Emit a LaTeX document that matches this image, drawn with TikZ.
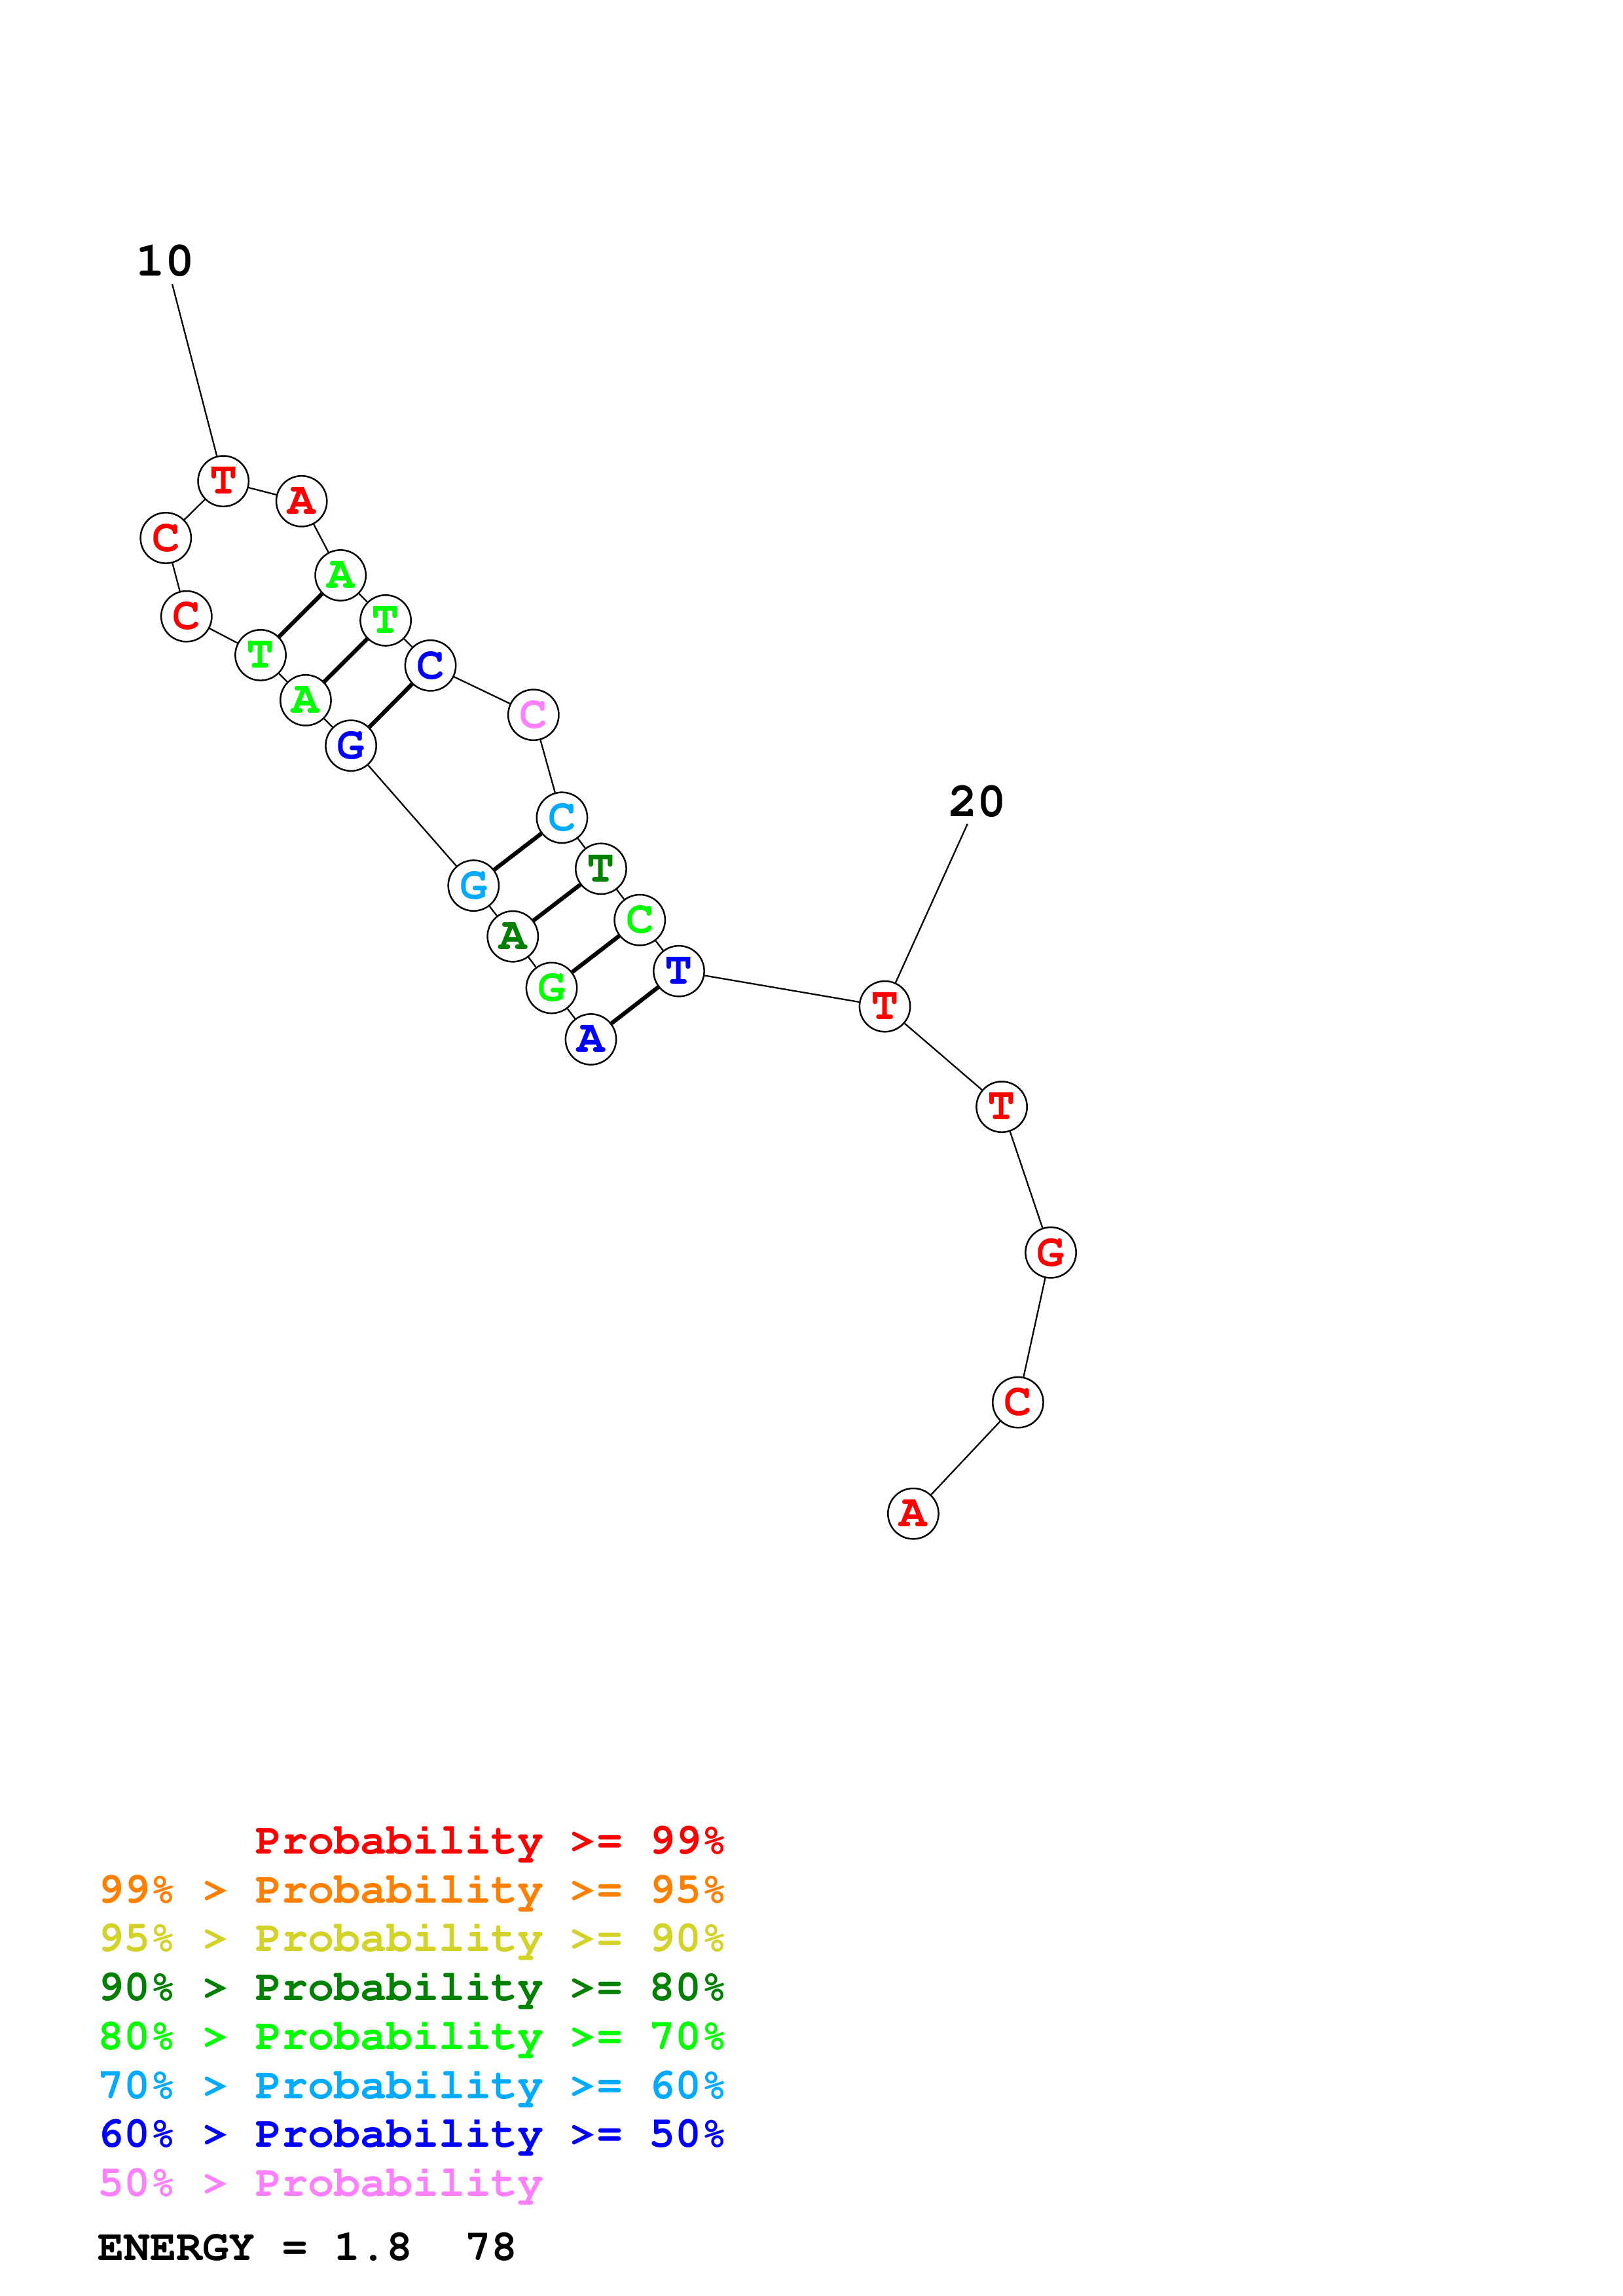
\documentclass[tikz,border=0pt]{standalone}
\usepackage[T1]{fontenc}
\definecolor{pred}{RGB}{255,0,0}
\definecolor{porange}{RGB}{255,128,0}
\definecolor{pyellow}{RGB}{210,210,40}
\definecolor{pdkgreen}{RGB}{0,128,0}
\definecolor{pgreen}{RGB}{0,255,0}
\definecolor{plblue}{RGB}{0,170,255}
\definecolor{pblue}{RGB}{0,0,255}
\definecolor{ppink}{RGB}{255,128,255}
\newcommand{\nucfont}{\fontfamily{pcr}\bfseries\fontsize{17}{17}\selectfont}
\newcommand{\legfont}{\fontfamily{pcr}\bfseries\fontsize{16.1}{16.1}\selectfont}
\tikzset{
  nuc/.style={circle, draw, line width=0.6pt, fill=white, inner sep=0pt, minimum size=6.55mm, font=\nucfont},
  backbone/.style={line width=0.55pt},
  pairline/.style={line width=1.5pt},
  numlabel/.style={inner sep=0pt, font=\fontfamily{pcr}\bfseries\fontsize{18}{18}\selectfont},
  legend/.style={anchor=base west, inner sep=0pt, font=\legfont}
}

\begin{document}
\begin{tikzpicture}[x=0.18953mm, y=-0.18953mm]
\useasboundingbox (0,0) rectangle (1108,1568);
\foreach \n/\x/\y/\b/\c in {1/403.4/709.8/A/pblue, 2/376.6/674.7/G/pgreen, 3/350.1/639.5/A/pdkgreen,
  4/323.3/604.8/G/plblue, 5/239.6/509.2/G/pblue, 6/208.7/478.2/A/pgreen, 7/177.9/447.4/T/pgreen,
  8/127.3/420.9/C/pred, 9/113.2/367.4/C/pred, 10/152.5/328.6/T/pred, 11/205.9/342.3/A/pred,
  12/232.5/392.9/A/pgreen, 13/263.3/423.7/T/pgreen, 14/293.9/454.5/C/pblue, 15/364.2/488.2/C/ppink,
  16/383.7/558.4/C/plblue, 17/410.3/593.3/T/pdkgreen, 18/436.8/628.3/C/pgreen, 19/463.5/663.2/T/pblue,
  20/604.1/687.3/T/pred, 21/683.9/755.9/T/pred, 22/717.4/855.4/G/pred, 23/695.0/957.7/C/pred,
  24/623.5/1033.7/A/pred}
\node[nuc, text=\c] (n\n) at (\x,\y) {\b};
\foreach \i [count=\j from 2] in {1,...,23}
\draw[backbone] (n\i) -- (n\j);
\foreach \a/\b in {1/19, 2/18, 3/17, 4/16, 5/14, 6/13, 7/12}
\draw[pairline] (n\a) -- (n\b);
\coordinate (t10) at (117.6,194.1);
\coordinate (t20) at (660.5,562.7);
\draw[backbone] (n10) -- (t10);
\draw[backbone] (n20) -- (t20);
\node[numlabel] (l10) at (112.7,178.1) {10};
\node[numlabel] (l20) at (667.3,547.3) {20};
\foreach \k/\c/\t in {0/pred/{\hphantom{99\% > }Probability >= 99\%},
  1/porange/{99\% > Probability >= 95\%}, 2/pyellow/{95\% > Probability >= 90\%},
  3/pdkgreen/{90\% > Probability >= 80\%}, 4/pgreen/{80\% > Probability >= 70\%},
  5/plblue/{70\% > Probability >= 60\%}, 6/pblue/{60\% > Probability >= 50\%},
  7/ppink/{50\% > Probability}}
\node[legend, text=\c] (leg\k) at (66.5,1266+33.4*\k) {\t};
\node[legend] (energy) at (66.5,1543.7) {ENERGY = 1.8~~78};
\end{tikzpicture}
\end{document}
